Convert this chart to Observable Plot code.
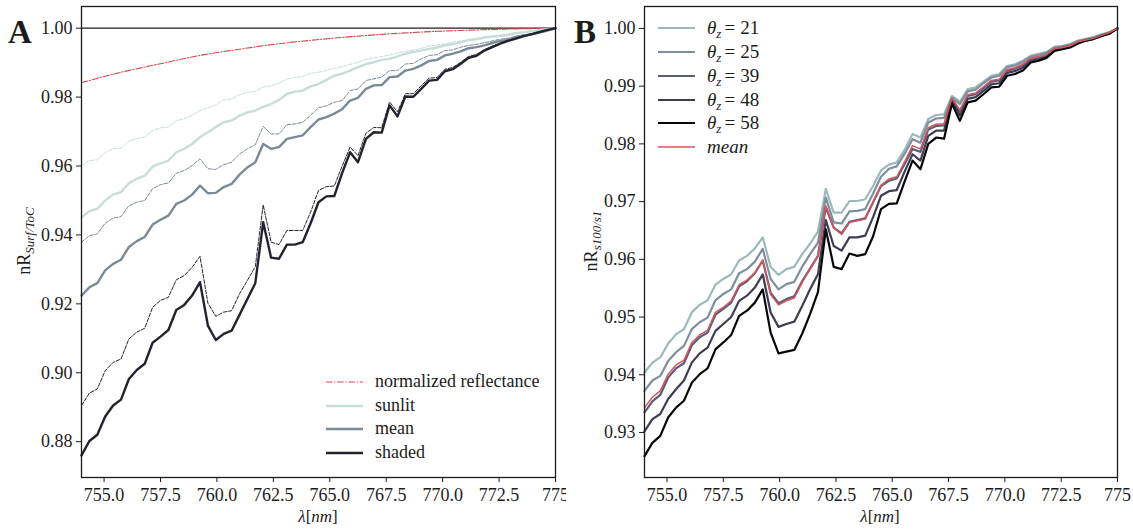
<!DOCTYPE html>
<html>
<head>
<meta charset="utf-8">
<script src="https://cdn.jsdelivr.net/npm/d3@7"></script>
<script src="https://cdn.jsdelivr.net/npm/@observablehq/plot@0.6"></script>
<style>
  html, body { margin: 0; padding: 0; background: #fff; }
  #wrap { display: flex; width: 1133px; height: 532px; }
</style>
</head>
<body>
<div id="wrap"><div id="pa"></div><div id="pb"></div></div>
<script>
// ---------- data ----------
const wl = [754.00,754.35,754.70,755.05,755.40,755.75,756.10,756.45,756.80,757.15,
757.50,757.85,758.20,758.55,758.90,759.25,759.60,759.95,760.30,760.65,
761.00,761.35,761.70,762.05,762.40,762.75,763.10,763.45,763.80,764.15,
764.50,764.85,765.20,765.55,765.90,766.25,766.60,766.95,767.30,767.65,
768.00,768.35,768.70,769.05,769.40,769.75,770.10,770.45,770.80,771.15,
771.50,771.85,772.20,772.55,772.90,773.25,773.60,773.95,774.30,774.65,
775.00];

// Panel A
const reflWl = [754.00,755.75,757.50,759.25,761.00,762.75,764.50,766.25,768.00,769.75,771.50,773.25,775.00];
const reflA  = [0.9842,0.9872,0.9897,0.9921,0.9939,0.9955,0.9967,0.9977,0.9985,0.9991,0.9995,0.9998,1.0000];

const sunlitDashA = [0.9601,0.9616,0.9618,0.9640,0.9650,0.9652,0.9672,0.9679,0.9684,0.9703,
0.9711,0.9713,0.9732,0.9737,0.9747,0.9761,0.9769,0.9778,0.9792,0.9795,
0.9807,0.9814,0.9817,0.9829,0.9833,0.9840,0.9853,0.9857,0.9860,0.9869,
0.9872,0.9878,0.9883,0.9889,0.9895,0.9901,0.9910,0.9914,0.9918,0.9922,
0.9928,0.9933,0.9936,0.9941,0.9948,0.9951,0.9955,0.9959,0.9963,0.9966,
0.9970,0.9973,0.9976,0.9979,0.9982,0.9985,0.9988,0.9991,0.9994,0.9997,
1.0000];
const sunlitA = [0.9451,0.9469,0.9476,0.9500,0.9517,0.9524,0.9550,0.9563,0.9572,0.9598,
0.9608,0.9616,0.9640,0.9650,0.9664,0.9684,0.9698,0.9713,0.9727,0.9732,
0.9746,0.9756,0.9761,0.9772,0.9780,0.9792,0.9809,0.9816,0.9819,0.9831,
0.9838,0.9850,0.9862,0.9868,0.9877,0.9887,0.9896,0.9901,0.9908,0.9911,
0.9918,0.9926,0.9931,0.9935,0.9940,0.9944,0.9950,0.9954,0.9959,0.9966,
0.9968,0.9973,0.9976,0.9978,0.9981,0.9986,0.9988,0.9991,0.9995,0.9997,
1.0000];
const meanDashA = [0.9379,0.9398,0.9403,0.9434,0.9449,0.9453,0.9485,0.9495,0.9500,0.9534,
0.9546,0.9551,0.9579,0.9587,0.9601,0.9621,0.9592,0.9590,0.9604,0.9611,
0.9635,0.9650,0.9662,0.9715,0.9693,0.9693,0.9720,0.9722,0.9727,0.9747,
0.9769,0.9775,0.9785,0.9790,0.9819,0.9824,0.9848,0.9853,0.9858,0.9877,
0.9877,0.9896,0.9898,0.9911,0.9921,0.9923,0.9935,0.9937,0.9945,0.9950,
0.9953,0.9958,0.9963,0.9968,0.9971,0.9977,0.9981,0.9984,0.9989,0.9994,
1.0000];
const meanA = [0.9224,0.9248,0.9260,0.9297,0.9316,0.9328,0.9365,0.9382,0.9394,0.9430,
0.9444,0.9456,0.9490,0.9500,0.9517,0.9543,0.9521,0.9522,0.9539,0.9548,
0.9575,0.9596,0.9611,0.9664,0.9650,0.9655,0.9679,0.9684,0.9689,0.9713,
0.9735,0.9742,0.9752,0.9765,0.9790,0.9798,0.9824,0.9834,0.9835,0.9858,
0.9860,0.9877,0.9882,0.9892,0.9905,0.9908,0.9921,0.9926,0.9933,0.9942,
0.9945,0.9950,0.9957,0.9963,0.9966,0.9974,0.9979,0.9982,0.9988,0.9993,
1.0000];
const shadedDashA = [0.8905,0.8941,0.8953,0.9006,0.9030,0.9040,0.9098,0.9118,0.9129,0.9190,
0.9210,0.9219,0.9270,0.9282,0.9306,0.9338,0.9202,0.9164,0.9176,0.9180,
0.9229,0.9268,0.9308,0.9487,0.9379,0.9372,0.9413,0.9413,0.9413,0.9466,
0.9529,0.9540,0.9542,0.9600,0.9655,0.9630,0.9695,0.9712,0.9711,0.9786,
0.9757,0.9810,0.9810,0.9833,0.9855,0.9857,0.9881,0.9886,0.9901,0.9918,
0.9924,0.9938,0.9948,0.9957,0.9965,0.9972,0.9978,0.9984,0.9990,0.9995,
1.0000];
const shadedA = [0.8760,0.8802,0.8820,0.8873,0.8905,0.8922,0.8982,0.9008,0.9026,0.9087,
0.9105,0.9124,0.9182,0.9197,0.9224,0.9263,0.9137,0.9095,0.9113,0.9122,
0.9168,0.9214,0.9260,0.9437,0.9334,0.9331,0.9372,0.9372,0.9379,0.9434,
0.9495,0.9512,0.9513,0.9580,0.9640,0.9611,0.9679,0.9698,0.9697,0.9776,
0.9744,0.9802,0.9801,0.9824,0.9848,0.9850,0.9875,0.9881,0.9897,0.9914,
0.9920,0.9935,0.9945,0.9955,0.9963,0.9970,0.9977,0.9983,0.9989,0.9995,
1.0000];

// Panel B
const t21B = [0.9404,0.9421,0.9430,0.9454,0.9470,0.9479,0.9508,0.9521,0.9529,0.9556,
0.9566,0.9574,0.9598,0.9606,0.9619,0.9638,0.9587,0.9573,0.9583,0.9587,
0.9609,0.9627,0.9648,0.9722,0.9681,0.9681,0.9701,0.9701,0.9704,0.9727,
0.9754,0.9764,0.9768,0.9790,0.9817,0.9811,0.9843,0.9850,0.9851,0.9883,
0.9873,0.9895,0.9898,0.9908,0.9918,0.9921,0.9935,0.9938,0.9944,0.9953,
0.9956,0.9959,0.9968,0.9970,0.9973,0.9979,0.9982,0.9985,0.9990,0.9994,
1.0000];
const t25B = [0.9372,0.9390,0.9398,0.9424,0.9439,0.9450,0.9479,0.9491,0.9499,0.9529,
0.9540,0.9548,0.9576,0.9583,0.9596,0.9618,0.9566,0.9548,0.9557,0.9561,
0.9587,0.9609,0.9629,0.9707,0.9664,0.9662,0.9683,0.9684,0.9687,0.9714,
0.9743,0.9757,0.9761,0.9783,0.9808,0.9802,0.9837,0.9844,0.9845,0.9880,
0.9869,0.9891,0.9894,0.9905,0.9915,0.9918,0.9933,0.9936,0.9942,0.9951,
0.9954,0.9958,0.9967,0.9969,0.9972,0.9978,0.9981,0.9984,0.9989,0.9993,
1.0000];
const t39B = [0.9335,0.9354,0.9365,0.9395,0.9411,0.9420,0.9451,0.9465,0.9473,0.9504,
0.9514,0.9525,0.9553,0.9562,0.9576,0.9598,0.9542,0.9524,0.9531,0.9536,
0.9562,0.9584,0.9606,0.9690,0.9655,0.9645,0.9665,0.9668,0.9671,0.9699,
0.9727,0.9736,0.9740,0.9765,0.9791,0.9786,0.9825,0.9831,0.9832,0.9877,
0.9856,0.9883,0.9886,0.9897,0.9908,0.9910,0.9927,0.9930,0.9936,0.9947,
0.9950,0.9954,0.9964,0.9967,0.9970,0.9976,0.9980,0.9983,0.9988,0.9992,
1.0000];
const t48B = [0.9302,0.9323,0.9332,0.9358,0.9375,0.9390,0.9421,0.9437,0.9447,0.9476,
0.9488,0.9500,0.9528,0.9537,0.9551,0.9574,0.9508,0.9483,0.9488,0.9492,
0.9519,0.9548,0.9574,0.9668,0.9623,0.9615,0.9638,0.9638,0.9641,0.9673,
0.9710,0.9718,0.9720,0.9752,0.9782,0.9771,0.9814,0.9823,0.9823,0.9876,
0.9849,0.9878,0.9881,0.9892,0.9903,0.9905,0.9923,0.9926,0.9932,0.9944,
0.9947,0.9951,0.9962,0.9965,0.9968,0.9975,0.9979,0.9982,0.9987,0.9992,
1.0000];
const t58B = [0.9259,0.9282,0.9294,0.9326,0.9343,0.9355,0.9386,0.9401,0.9411,0.9444,
0.9456,0.9469,0.9502,0.9511,0.9525,0.9548,0.9473,0.9437,0.9440,0.9443,
0.9471,0.9505,0.9543,0.9652,0.9587,0.9583,0.9610,0.9606,0.9609,0.9640,
0.9687,0.9696,0.9697,0.9735,0.9771,0.9756,0.9800,0.9811,0.9809,0.9870,
0.9840,0.9872,0.9875,0.9886,0.9898,0.9899,0.9918,0.9921,0.9927,0.9941,
0.9944,0.9949,0.9961,0.9964,0.9967,0.9974,0.9979,0.9982,0.9987,0.9991,
1.0000];
const meanB = [0.9343,0.9361,0.9372,0.9401,0.9417,0.9425,0.9456,0.9469,0.9477,0.9508,
0.9517,0.9528,0.9556,0.9564,0.9577,0.9598,0.9539,0.9521,0.9528,0.9533,
0.9560,0.9583,0.9606,0.9693,0.9655,0.9643,0.9664,0.9667,0.9670,0.9699,
0.9728,0.9739,0.9743,0.9769,0.9797,0.9791,0.9828,0.9834,0.9835,0.9879,
0.9859,0.9885,0.9888,0.9899,0.9910,0.9912,0.9929,0.9932,0.9938,0.9948,
0.9951,0.9955,0.9965,0.9967,0.9970,0.9977,0.9980,0.9983,0.9988,0.9993,
1.0000];

const xTicks = [755, 757.5, 760, 762.5, 765, 767.5, 770, 772.5, 775];
const yTicksA = [0.88, 0.90, 0.92, 0.94, 0.96, 0.98, 1.00];
const yTicksB = [0.93, 0.94, 0.95, 0.96, 0.97, 0.98, 0.99, 1.00];
const legendA = ["normalized reflectance", "sunlit", "mean", "shaded"];
const legendB = ["21", "25", "39", "48", "58"];

// ---------- helpers ----------
const rows = (xs, vs) => vs.map((v, i) => ({wl: xs[i], v}));
const xFmt = d => d === 775 ? "775" : d.toFixed(1);
const yFmt = d3.format(".2f");
const ink = "#1c1c1c";
const FONT = "'Liberation Serif', 'DejaVu Serif', serif";

const cA = {refl: "#d0484b", sunlit: "#c7ddda", mean: "#7b8a98", shaded: "#23232f"};
const cB = ["#9bbab9", "#7f8e9e", "#5b5d78", "#3e3d56", "#070707"];
const cBmean = "#d8555a";

const commonStyle = {fontFamily: FONT, fontSize: "18px", color: ink, background: "#fff", overflow: "visible"};

function axes(yTicks) {
  return [
    Plot.axisX({ticks: xTicks, tickFormat: xFmt, tickSize: 5, tickPadding: 6, label: null, stroke: ink, fontFamily: FONT, fontSize: 18, fontVariant: "normal"}),
    Plot.axisY({ticks: yTicks, tickFormat: yFmt, tickSize: 5, tickPadding: 4, label: null, stroke: ink, fontFamily: FONT, fontSize: 18, fontVariant: "normal"})
  ];
}

// ---------- Panel A ----------
const A = Plot.plot({
  width: 566, height: 532,
  marginLeft: 81, marginRight: 11, marginTop: 6, marginBottom: 55,
  style: commonStyle,
  x: {domain: [754, 775]},
  y: {domain: [0.8696, 1.0063]},
  marks: [
    ...axes(yTicksA),
    Plot.ruleY([1], {stroke: ink, strokeWidth: 1.3}),
    Plot.line(rows(reflWl, reflA), {x: "wl", y: "v", curve: "monotone-x", stroke: cA.refl, strokeWidth: 1.1, strokeDasharray: "6.4,1.8,1.2,1.8"}),
    Plot.line(rows(wl, sunlitDashA), {x: "wl", y: "v", stroke: cA.sunlit, strokeWidth: 1, strokeDasharray: "3.7,1.6"}),
    Plot.line(rows(wl, sunlitA), {x: "wl", y: "v", stroke: cA.sunlit, strokeWidth: 2.4}),
    Plot.line(rows(wl, meanDashA), {x: "wl", y: "v", stroke: cA.mean, strokeWidth: 1, strokeDasharray: "3.7,1.6"}),
    Plot.line(rows(wl, meanA), {x: "wl", y: "v", stroke: cA.mean, strokeWidth: 2.4}),
    Plot.line(rows(wl, shadedDashA), {x: "wl", y: "v", stroke: cA.shaded, strokeWidth: 1, strokeDasharray: "3.7,1.6"}),
    Plot.line(rows(wl, shadedA), {x: "wl", y: "v", stroke: cA.shaded, strokeWidth: 2.4}),
    Plot.frame({stroke: ink, strokeWidth: 1.3})
  ]
});
document.getElementById("pa").appendChild(A);

// ---------- Panel B ----------
const seriesB = [t21B, t25B, t39B, t48B, t58B];
const B = Plot.plot({
  width: 567, height: 532,
  marginLeft: 78, marginRight: 16, marginTop: 6, marginBottom: 55,
  style: commonStyle,
  x: {domain: [754, 775]},
  y: {domain: [0.9222, 1.0038]},
  marks: [
    ...axes(yTicksB),
    ...seriesB.map((s, k) => Plot.line(rows(wl, s), {x: "wl", y: "v", stroke: cB[k], strokeWidth: 2.2})),
    Plot.line(rows(wl, meanB), {x: "wl", y: "v", stroke: cBmean, strokeWidth: 1.5}),
    Plot.frame({stroke: ink, strokeWidth: 1.3})
  ]
});
document.getElementById("pb").appendChild(B);

// ---------- decorations (labels, legends) ----------
function txt(svg) {
  return svg.append("text").attr("font-family", FONT).style("font-family", FONT).attr("fill", ink);
}
function panelLetter(svg, letter) {
  txt(svg).attr("x", 8).attr("y", 43).attr("text-anchor", "start")
    .attr("font-size", 33).attr("font-weight", "bold").text(letter);
}
function yLabel(svg, x, y, sub) {
  const t = txt(svg).attr("transform", `translate(${x},${y}) rotate(-90)`)
    .attr("text-anchor", "middle").attr("font-size", 18);
  t.append("tspan").text("nR");
  t.append("tspan").attr("font-size", 13).attr("font-style", "italic").attr("dy", 4).text(sub);
}
function xLabel(svg, x) {
  const t = txt(svg).attr("x", x).attr("y", 522).attr("text-anchor", "middle").attr("font-size", 17);
  t.append("tspan").attr("font-style", "italic").text("λ");
  t.append("tspan").text("[");
  t.append("tspan").attr("font-style", "italic").text("nm");
  t.append("tspan").text("]");
}

const sa = d3.select(A);
panelLetter(sa, "A");
yLabel(sa, 30, 241, "Surf/ToC");
xLabel(sa, 318);
const legA = [
  {c: cA.refl, w: 1.1, dash: "6.4,1.8,1.2,1.8"},
  {c: cA.sunlit, w: 2.4}, {c: cA.mean, w: 2.4}, {c: cA.shaded, w: 2.4}
];
const rowYA = [382, 406, 429, 453];
legA.forEach((d, i) => {
  sa.append("line").attr("x1", 326).attr("x2", 363).attr("y1", rowYA[i]).attr("y2", rowYA[i])
    .attr("stroke", d.c).attr("stroke-width", d.w).attr("stroke-dasharray", d.dash || null);
  txt(sa).attr("x", 375).attr("y", rowYA[i] + 5).attr("text-anchor", "start").attr("font-size", 18).text(legendA[i]);
});

const sb = d3.select(B);
panelLetter(sb, "B");
yLabel(sb, 31, 241, "s100/s1");
xLabel(sb, 314);
const rowYB = [28, 52, 76, 100, 123, 147];
legendB.forEach((lab, i) => {
  sb.append("line").attr("x1", 92).attr("x2", 129).attr("y1", rowYB[i]).attr("y2", rowYB[i])
    .attr("stroke", cB[i]).attr("stroke-width", 2.2);
  const t = txt(sb).attr("x", 141).attr("y", rowYB[i] + 6).attr("text-anchor", "start").attr("font-size", 19);
  t.append("tspan").attr("font-style", "italic").text("θ");
  t.append("tspan").attr("font-style", "italic").attr("font-size", 13).attr("dy", 4).text("z");
  t.append("tspan").attr("dy", -4).attr("dx", 3).text("=");
  t.append("tspan").attr("dx", 5).text(lab);
});
sb.append("line").attr("x1", 92).attr("x2", 129).attr("y1", rowYB[5]).attr("y2", rowYB[5])
  .attr("stroke", cBmean).attr("stroke-width", 1.5);
txt(sb).attr("x", 141).attr("y", rowYB[5] + 6).attr("text-anchor", "start").attr("font-size", 19)
  .attr("font-style", "italic").text("mean");

// force serif on every text (tick labels included)
d3.selectAll("#wrap svg text").style("font-family", FONT).style("font-variant", "normal");
</script>
</body>
</html>
